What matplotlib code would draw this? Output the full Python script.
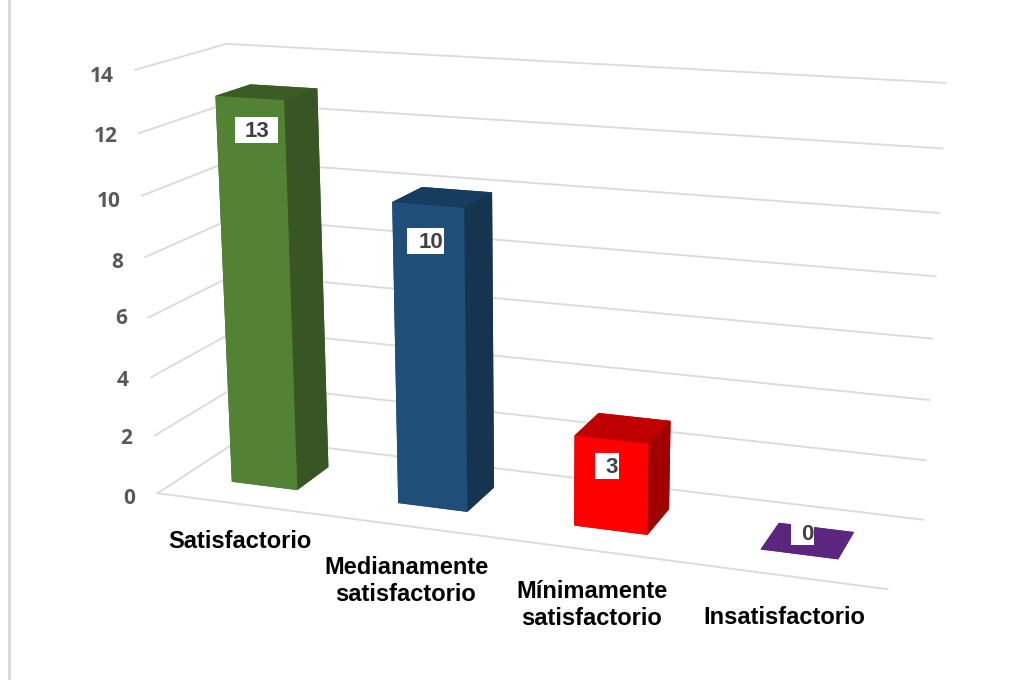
import numpy as np
import matplotlib
matplotlib.use('Agg')
import matplotlib.pyplot as plt
from matplotlib.lines import Line2D
from matplotlib.patches import Rectangle

W, H = 1014, 680

# datos
categorias = ['Satisfactorio', 'Medianamente\nsatisfactorio', 'Mínimamente\nsatisfactorio', 'Insatisfactorio']
valores = [13, 10, 3, 0]
ticks_z = [0, 2, 4, 6, 8, 10, 12, 14]

# colores de cada barra: frente, arriba, lado
color_frente = ['#548235', '#1F4E79', '#FF0000', '#5B2580']
color_arriba = ['#3B5C25', '#163D5F', '#C00000', '#5B2580']
color_lado = ['#375623', '#15344F', '#A00000', '#5B2580']

# puntos (x, y, z) y donde caen en la imagen: calibra la camara
esquinas_3d = [(0, 0, 0), (0, 0, 14), (0, 1, 14), (4, 1, 14), (4, 1, 0), (4, 0, 0), (0, 1, 0),
               (0.295, 0.3, 13), (0.695, 0.3, 13), (0.295, 0.3, 0), (0.695, 0.3, 0),
               (1.295, 0.3, 10), (1.695, 0.3, 10)]
esquinas_px = [(157, 492), (133, 70), (225, 44), (945, 82), (923, 520), (887, 590), (243, 438),
               (217, 97), (287, 100), (232, 482), (297, 490),
               (392, 202), (465, 207)]

filas = []
for (x, y, z), (u, v) in zip(esquinas_3d, esquinas_px):
    filas.append([x, y, z, 1, 0, 0, 0, 0, -u * x, -u * y, -u * z, -u])
    filas.append([0, 0, 0, 0, x, y, z, 1, -v * x, -v * y, -v * z, -v])
camara = np.linalg.svd(np.array(filas, dtype=float))[2][-1].reshape(3, 4)
camara = camara / (camara[2] @ np.array([2, 0.5, 7, 1]))

fig = plt.figure(figsize=(W / 100, H / 100), dpi=100)
ax = fig.add_axes([0, 0, 1, 1], projection='3d', computed_zorder=False)
ax.set_proj_type('ortho')  # la camara ya trae la perspectiva, asi no recorta las lineas


def proyeccion():
    # pixeles de la imagen -> coordenadas de vista de la axes 3d
    inv = ax.transData.inverted().get_affine().get_matrix()
    pix = np.array([[1, 0, 0], [0, -1, H], [0, 0, 1]], dtype=float)
    t = inv @ pix @ camara
    prof = np.array([-0.004, 0.2, -0.01 / 14, 0])
    return np.array([t[0], t[1], prof, t[2]])


ax.get_proj = proyeccion

# rejilla
gris = '#DCDCDC'
for v in ticks_z:
    ax.plot([0, 0], [0, 1], [v, v], color=gris, lw=1.4, zorder=1, clip_on=False)
    ax.plot([0, 4], [1, 1], [v, v], color=gris, lw=1.4, zorder=1, clip_on=False)
ax.plot([0, 4], [0, 0], [0, 0], color=gris, lw=1.4, zorder=1, clip_on=False)

# barras
ancho, y0, fondo = 0.40, 0.30, 0.40
for i, v in enumerate(valores):
    colores = [color_frente[i], color_arriba[i], color_frente[i], color_lado[i], color_lado[i], color_lado[i]]
    barra = ax.bar3d(i + 0.495 - ancho / 2, y0, 0, ancho, fondo, v, color=colores, shade=False,
                     linewidth=0, zorder=2)
    barra.set_clip_on(False)

ax.set_xlim(0, 4)
ax.set_ylim(0, 1)
ax.set_zlim(0, 14)
ax.set_axis_off()


def pos(x, y):
    return x / W, 1 - y / H


# linea gris de la izquierda
fig.add_artist(Line2D([9 / W, 9 / W], [0, 1], color=gris, lw=2.2))

# etiquetas del eje
pos_ticks = [(129, 498), (126, 438), (122.7, 380), (121, 319), (117, 262), (108.7, 201), (105.5, 137), (102, 76)]
for v, (x, y) in zip(ticks_z, pos_ticks):
    fig.text(*pos(x, y), str(v), ha='center', va='center', family='Open Sans', weight='bold',
             fontsize=15, color='#595959')

# categorias
pos_cat = [(239.5, 542), (406, 581), (592, 605), (784, 618)]
for c, (x, y) in zip(categorias, pos_cat):
    fig.text(*pos(x, y), c, ha='center', va='center', family='Liberation Sans', weight='bold',
             fontsize=17, color='black', linespacing=1.25)

# etiquetas de datos: caja blanca y numero
cajas = [(235, 117, 43, 26), (407, 228, 37, 26), (595, 453, 24, 26), (791, 520, 23, 25)]
centros = [(256.5, 131.5), (431, 242.5), (612, 467.5), (807, 534)]
for v, (x, y, w, h), (cx, cy) in zip(valores, cajas, centros):
    fig.add_artist(Rectangle((x / W, 1 - (y + h) / H), w / W, h / H, transform=fig.transFigure,
                             facecolor='white', edgecolor='none'))
    fig.text(*pos(cx, cy), str(v), ha='center', va='center', family='Liberation Sans', weight='bold',
             fontsize=16, color='#404040')

fig.savefig('out.png', dpi=100)
